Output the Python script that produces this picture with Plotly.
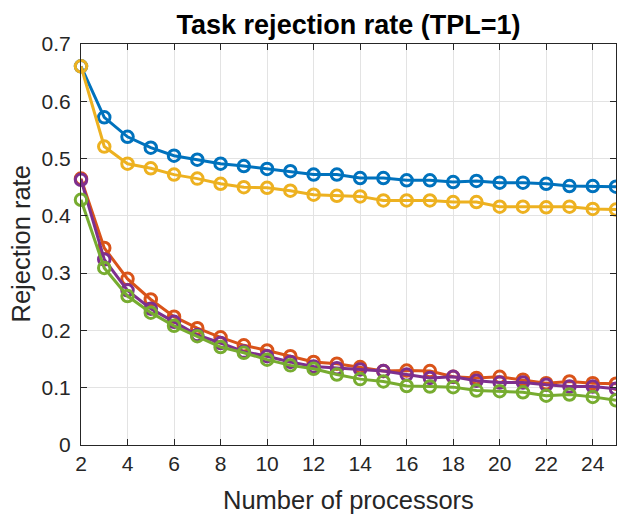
import plotly.graph_objects as go

processors = list(range(2, 26))

series_names = ["Series 1", "Series 2", "Series 3", "Series 4", "Series 5"]
colors = ["#0072BD", "#D95319", "#EDB120", "#7E2F8E", "#77AC30"]

blue = [0.661, 0.572, 0.538, 0.519, 0.505, 0.498, 0.491, 0.487, 0.482, 0.478, 0.472, 0.472,
        0.466, 0.466, 0.462, 0.462, 0.459, 0.461, 0.458, 0.458, 0.456, 0.452, 0.452, 0.451]
orange = [0.465, 0.344, 0.290, 0.254, 0.224, 0.204, 0.188, 0.174, 0.165, 0.155, 0.145, 0.142,
          0.136, 0.129, 0.130, 0.129, 0.119, 0.117, 0.119, 0.114, 0.108, 0.111, 0.108, 0.107]
yellow = [0.661, 0.521, 0.491, 0.483, 0.472, 0.465, 0.456, 0.450, 0.449, 0.444, 0.437, 0.435,
          0.434, 0.427, 0.427, 0.427, 0.424, 0.424, 0.416, 0.416, 0.415, 0.416, 0.412, 0.411]
purple = [0.463, 0.324, 0.270, 0.238, 0.215, 0.192, 0.178, 0.163, 0.155, 0.145, 0.137, 0.134,
          0.132, 0.129, 0.123, 0.117, 0.119, 0.112, 0.109, 0.109, 0.105, 0.102, 0.102, 0.098]
green = [0.428, 0.309, 0.260, 0.231, 0.208, 0.190, 0.171, 0.161, 0.149, 0.139, 0.133, 0.123,
         0.115, 0.111, 0.103, 0.102, 0.101, 0.095, 0.094, 0.092, 0.086, 0.088, 0.084, 0.078]

x_ticks = list(range(2, 25, 2))
y_ticks = [0, 0.1, 0.2, 0.3, 0.4, 0.5, 0.6, 0.7]
y_tick_labels = ["0", "0.1", "0.2", "0.3", "0.4", "0.5", "0.6", "0.7"]

W, H = 617, 514
ML, MR, MT, MB = 81, 1, 44, 69
PW = W - ML - MR
PH = H - MT - MB

fig = go.Figure()
for name, ys, c in zip(series_names, [blue, orange, yellow, purple, green], colors):
    fig.add_trace(go.Scatter(
        x=processors, y=ys, name=name, mode="lines+markers",
        line=dict(color=c, width=3),
        marker=dict(symbol="circle-open", size=11.5, color=c, line=dict(width=3, color=c)),
        showlegend=False, cliponaxis=False,
    ))

font_family = "Liberation Sans, Arial, sans-serif"
axis_common = dict(
    showline=True, linecolor="#262626", linewidth=1, mirror="ticks",
    ticks="inside", ticklen=6, tickcolor="#262626",
    showgrid=True, gridcolor="#E3E3E3", gridwidth=1, zeroline=False,
    automargin=False,
    tickfont=dict(family=font_family, size=21, color="#262626"),
)
fig.update_layout(
    width=W, height=H,
    paper_bgcolor="white", plot_bgcolor="white",
    margin=dict(l=ML, r=MR, t=MT, b=MB, autoexpand=False),
    title=dict(text="<b>Task rejection rate (TPL=1)</b>", x=0.5, xref="paper",
               y=1 - 25 / H, yanchor="middle",
               font=dict(family=font_family, size=27, color="black")),
    xaxis=dict(range=[2, 25], tickvals=x_ticks, **axis_common),
    yaxis=dict(range=[0, 0.7], tickvals=y_ticks, ticktext=y_tick_labels,
               ticklabelstandoff=5, **axis_common),
    annotations=[
        dict(text="Number of processors", xref="paper", yref="paper",
             x=0.5, y=-(500 - (MT + PH)) / PH, xanchor="center", yanchor="middle",
             showarrow=False, font=dict(family=font_family, size=25.5, color="#262626")),
        dict(text="Rejection rate", xref="paper", yref="paper",
             x=-(ML - 20) / PW, y=0.5, xanchor="center", yanchor="middle",
             textangle=-90, showarrow=False,
             font=dict(family=font_family, size=25.5, color="#262626")),
    ],
)
fig.write_html("out.html",
               config={"displayModeBar": False},
               post_script="document.body.style.margin='0';document.body.style.overflow='hidden';")
